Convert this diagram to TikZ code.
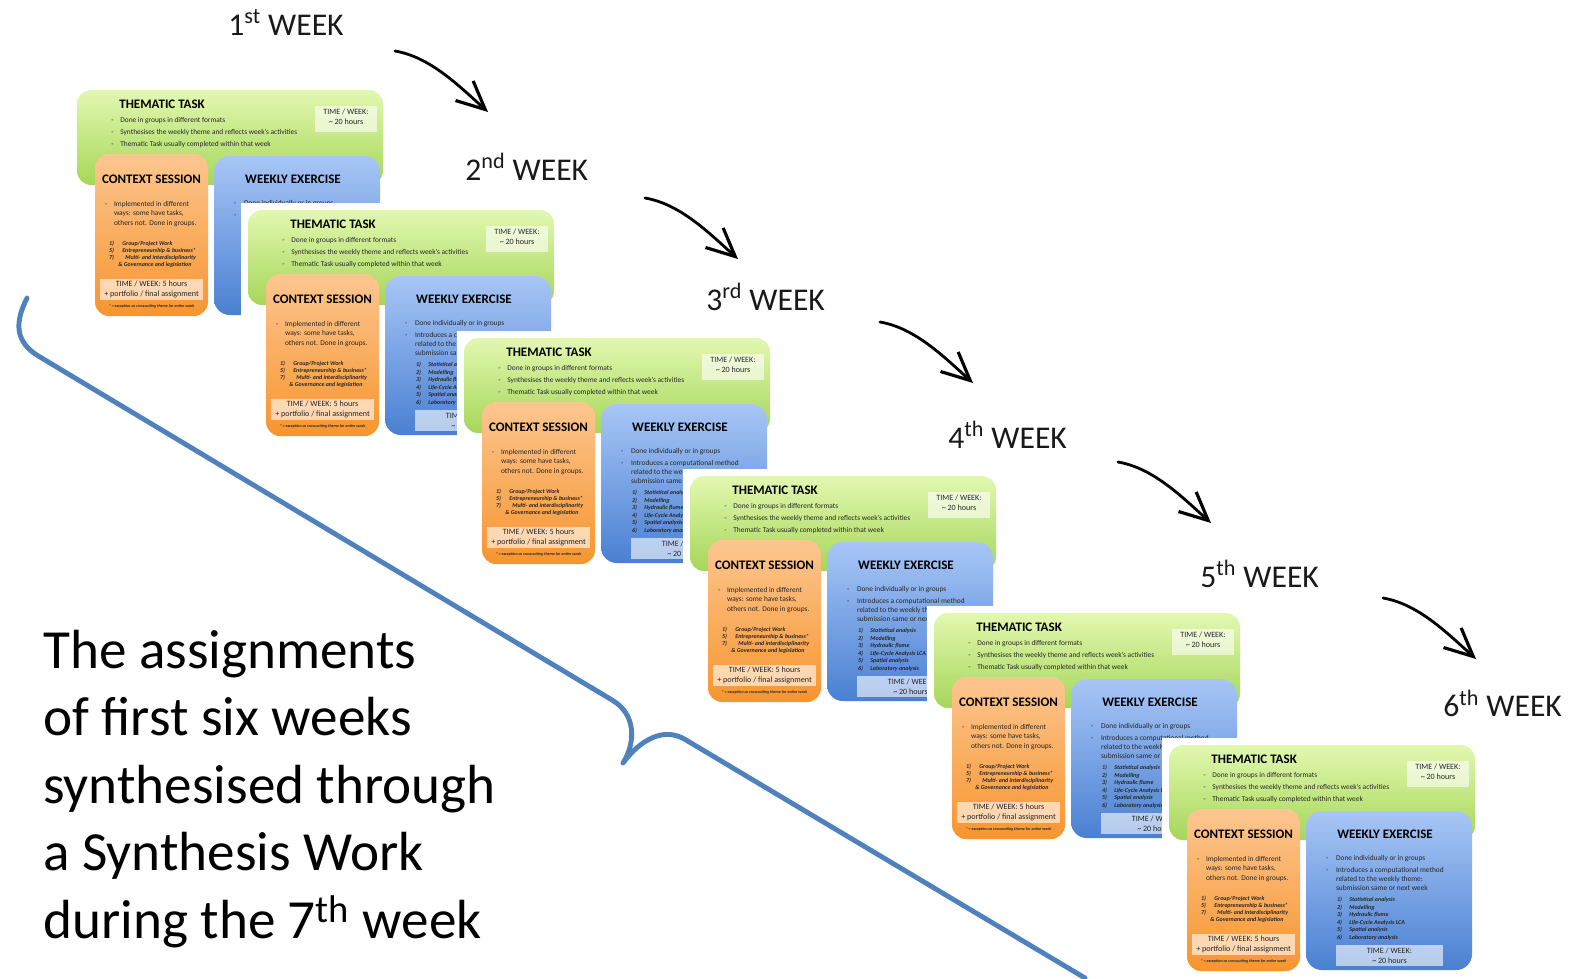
\documentclass[tikz,border=0pt]{standalone}
\usepackage{fontspec}
\setmainfont{Carlito}
\usetikzlibrary{arrows.meta}

\definecolor{greentop}{HTML}{E2F8B0}
\definecolor{greenbot}{HTML}{A6D659}
\definecolor{orangetop}{HTML}{FCC690}
\definecolor{orangebot}{HTML}{F7952F}
\definecolor{bluetop}{HTML}{A8C6F6}
\definecolor{bluebot}{HTML}{4A80D2}
\definecolor{braceblue}{HTML}{4F81BD}
\definecolor{inktext}{HTML}{262626}

\tikzset{
  cardtitle/.style={font=\bfseries\fontsize{7.4}{8}\selectfont, inner sep=0pt},
  cardtext/.style={font=\fontsize{4.2}{5.1}\selectfont, inner sep=0pt, text=inktext, anchor=base west},
  cardlist/.style={font=\bfseries\itshape\fontsize{3.4}{4.1}\selectfont, inner sep=0pt, text=inktext, anchor=base west},
  timetext/.style={font=\fontsize{4.6}{5.6}\selectfont, inner sep=0pt, align=center, text=inktext},
  greenbox/.style={rounded corners=8pt, top color=greentop, bottom color=greenbot},
  orangebox/.style={rounded corners=8pt, top color=orangetop, bottom color=orangebot},
  bluebox/.style={rounded corners=9pt, top color=bluetop, bottom color=bluebot},
  weeklabel/.style={font=\fontsize{18}{20}\selectfont, inner sep=0pt, anchor=base west, text=black!90},
  weekarrow/.style={line width=1.6pt, line cap=round, -{Straight Barb[length=16pt,width=15pt,line width=1.8pt]}},
  brace/.style={line width=2.8pt, draw=braceblue, line cap=round, line join=round},
  summary/.style={font=\fontsize{31.4}{38}\selectfont, inner sep=0pt, anchor=base west},
  pics/weekcard/.style={code={
    \fill[white] (-7,-7) rectangle (313,233);
    % thematic task
    \shade[greenbox] (0,0) rectangle (306,95);
    \node[cardtitle, anchor=west] (-tt) at (42,14) {THEMATIC TASK};
    \foreach \t [count=\i] in {Done in groups in different formats,
        Synthesises the weekly theme and reflects week’s activities,
        Thematic Task usually completed within that week}{
      \node[cardtext] (-gd\i) at (34,{20+12.1*\i}) {-};
      \node[cardtext] (-g\i) at (43,{20+12.1*\i}) {\t};
    }
    \fill[white, opacity=.6] (238,16) rectangle (300,42);
    \node[timetext] (-gt) at (269,27) {TIME / WEEK:\\\textasciitilde\ 20 hours};
    % context session
    \shade[orangebox] (18,64) rectangle (131,226);
    \node[cardtitle] (-ct) at (74.5,89) {CONTEXT SESSION};
    \node[cardtext] (-od) at (27.7,116) {-};
    \foreach \t [count=\i] in {Implemented in different, {ways: some have tasks,}, others not. Done in groups.}{
      \node[cardtext] (-o\i) at (36.7,{106.5+9.5*\i}) {\t};
    }
    \node[cardlist] (-on1) at (31.7,155) {1)};
    \node[cardlist] (-ol1) at (45,155) {Group/Project Work};
    \node[cardlist] (-on2) at (31.7,162.3) {5)};
    \node[cardlist] (-ol2) at (45,162.3) {Entrepreneurship \& business*};
    \node[cardlist] (-on3) at (31.7,169.6) {7)};
    \node[cardlist] (-ol3) at (48,169.6) {Multi- and interdisciplinarity};
    \node[cardlist] (-ol4) at (41,176.9) {\& Governance and legislation};
    \fill[white, opacity=.6] (23,189) rectangle (126,210);
    \node[timetext] (-ot) at (74.5,199.5) {TIME / WEEK: 5 hours\\+ portfolio / final assignment};
    \node[font=\bfseries\itshape\fontsize{2.3}{3}\selectfont, inner sep=0pt, text=inktext] (-fn) at (74.5,216) {* = exception as crosscutting theme for entire week};
    % weekly exercise
    \shade[bluebox] (137,66) rectangle (303,225);
    \node[cardtitle] (-bt) at (216,89) {WEEKLY EXERCISE};
    \node[cardtext] (-bd1) at (156.7,115) {-};
    \node[cardtext] (-b1) at (166.7,115) {Done individually or in groups};
    \node[cardtext] (-bd2) at (156.7,127) {-};
    \foreach \t [count=\i] in {Introduces a computational method, related to the weekly theme:, submission same or next week}{
      \node[cardtext] (-b\i x) at (166.7,{118+9*\i}) {\t};
    }
    \foreach \t [count=\i] in {Statistical analysis, Modelling, Hydraulic flume, Life-Cycle Analysis LCA, Spatial analysis, Laboratory analysis}{
      \node[cardlist] (-bn\i) at (167.7,{149.3+7.5*\i}) {\i)};
      \node[cardlist] (-bl\i) at (180,{149.3+7.5*\i}) {\t};
    }
    \fill[white, opacity=.6] (167,200) rectangle (274,221);
    \node[timetext] (-btt) at (220.5,210.8) {TIME / WEEK:\\\textasciitilde\ 20 hours};
  }}
}

\begin{document}
\begin{tikzpicture}[x=0.02cm, y=-0.02cm]
\useasboundingbox (0,0) rectangle (1574,978);

% the six weekly cards, each laid over the one before
\pic (w1) at (77,90) {weekcard};
\pic (w2) at (248,210) {weekcard};
\pic (w3) at (464,338) {weekcard};
\pic (w4) at (690,476) {weekcard};
\pic (w5) at (934,613) {weekcard};
\pic (w6) at (1169,745) {weekcard};

% week labels
\node[weeklabel] (wk1) at (228,35) {1\textsuperscript{st} WEEK};
\node[weeklabel] (wk2) at (465,180) {2\textsuperscript{nd} WEEK};
\node[weeklabel] (wk3) at (706,310) {3\textsuperscript{rd} WEEK};
\node[weeklabel] (wk4) at (948,448) {4\textsuperscript{th} WEEK};
\node[weeklabel] (wk5) at (1200,587) {5\textsuperscript{th} WEEK};
\node[weeklabel] (wk6) at (1443,716) {6\textsuperscript{th} WEEK};

% arrows between the weeks
\foreach \x/\y [count=\i] in {395/51, 645/198, 880/322, 1118/462, 1383/598}{
  \coordinate (as\i) at (\x,\y);
  \coordinate (ae\i) at (\x+93,\y+61);
  \draw[weekarrow] (as\i) .. controls +(35,6) and +(-30,-27) .. (ae\i);
}

% brace
\draw[brace] (27,298) .. controls (15,322) and (14,342) .. (40,357) -- (612,700)
  .. controls (636,714) and (636,742) .. (623,763)
  .. controls (640,740) and (664,726) .. (686,740) -- (1085,978);

% summary text
\node[summary] (s1) at (43,668) {The assignments};
\node[summary] (s2) at (43,735.5) {of first six weeks};
\node[summary] (s3) at (43,803) {synthesised through};
\node[summary] (s4) at (43,870.5) {a Synthesis Work};
\node[summary] (s5) at (43,938) {during the 7\textsuperscript{th} week};
\end{tikzpicture}
\end{document}
